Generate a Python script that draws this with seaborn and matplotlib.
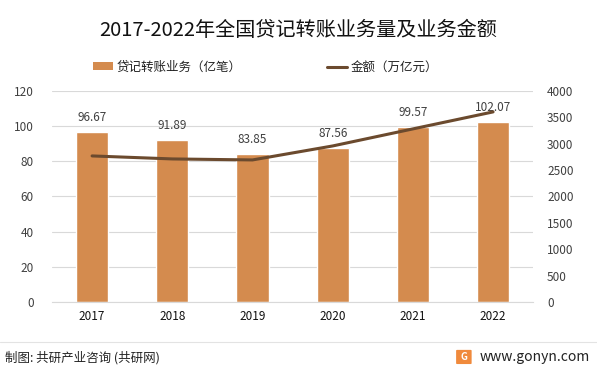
import numpy as np
import pandas as pd
import matplotlib
matplotlib.use("Agg")
import matplotlib.pyplot as plt
from matplotlib.patches import Patch, FancyBboxPatch
from matplotlib.lines import Line2D
import seaborn as sns

sns.set_style("white")
plt.rcParams["font.family"] = ["Noto Sans CJK SC", "DejaVu Sans"]

# ── data ──
years = ["2017", "2018", "2019", "2020", "2021", "2022"]
volume = [96.67, 91.89, 83.85, 87.56, 99.57, 102.07]      # 亿笔
amount = [2768, 2711, 2692, 2957, 3280, 3602]              # 万亿元

BAR_C = "#D48B4E"
LINE_C = "#6B4A2E"
TXT_C = "#404040"

df = pd.DataFrame({"year": years, "volume": volume, "amount": amount})
df["pos"] = np.arange(len(df))

fig = plt.figure(figsize=(5.97, 3.73), dpi=100)
ax = fig.add_axes([0.0871, 0.1903, 0.806, 0.566])

sns.barplot(data=df, x="year", y="volume", color=BAR_C, width=0.4,
            saturation=1, ax=ax, zorder=2)
ax.set_xlim(-0.5, 5.5)
ax.set_ylim(0, 120)
ax.set_yticks(range(0, 121, 20))
ax.grid(axis="y", color="#D9D9D9", linewidth=0.8, zorder=0)
ax.set_axisbelow(True)
for s in ax.spines.values():
    s.set_visible(False)
ax.spines["bottom"].set_visible(True)
ax.spines["bottom"].set_color("#D9D9D9")
ax.set_xlabel("")
ax.set_ylabel("")
ax.tick_params(axis="y", length=0, labelsize=8.5, labelcolor=TXT_C, pad=13)
ax.tick_params(axis="x", length=0, labelsize=8.5, labelcolor="#111111", pad=6)

for p, v in zip(df["pos"], df["volume"]):
    ax.annotate(f"{v:.2f}", xy=(p, v), xytext=(0, 6), textcoords="offset points",
                ha="center", va="bottom", fontsize=8.5, color=TXT_C)

ax2 = ax.twinx()
sns.lineplot(data=df, x="pos", y="amount", color=LINE_C, linewidth=2.2, ax=ax2,
             zorder=3)
ax2.set_ylim(0, 4000)
ax2.set_yticks(range(0, 4001, 500))
ax2.set_xlim(-0.5, 5.5)
for s in ax2.spines.values():
    s.set_visible(False)
ax2.set_ylabel("")
ax2.tick_params(axis="y", length=0, labelsize=8.5, labelcolor=TXT_C, pad=10)

fig.text(0.5, 0.918, "2017-2022年全国贷记转账业务量及业务金额", ha="center", va="center",
         fontsize=14.5, color="#111111")

handles = [Patch(facecolor=BAR_C, edgecolor="none"),
           Line2D([0], [0], color=LINE_C, linewidth=2.2)]
fig.legend(handles, ["贷记转账业务（亿笔）", "金额（万亿元）"], ncol=2,
           loc="center", bbox_to_anchor=(0.445, 0.82), frameon=False,
           fontsize=9, handlelength=1.6, handleheight=0.55, columnspacing=6.8,
           handletextpad=0.3, labelcolor="#222222")

fig.add_artist(Line2D([0.0, 1.0], [0.083, 0.083], color="#E3E3E3", linewidth=0.8,
                      transform=fig.transFigure))
fig.text(0.008, 0.042, "制图: 共研产业咨询 (共研网)", ha="left", va="center",
         fontsize=9, color="#222222")
fig.add_artist(FancyBboxPatch((0.766, 0.026), 0.022, 0.034,
                              boxstyle="round,pad=0.002", facecolor="#F08A3C",
                              edgecolor="none", transform=fig.transFigure))
fig.text(0.777, 0.043, "G", ha="center", va="center", fontsize=7,
         color="white", fontweight="bold")
fig.text(0.803, 0.042, "www.gonyn.com", ha="left", va="center",
         fontsize=10, color="#222222")

fig.savefig("out.png", dpi=100)
